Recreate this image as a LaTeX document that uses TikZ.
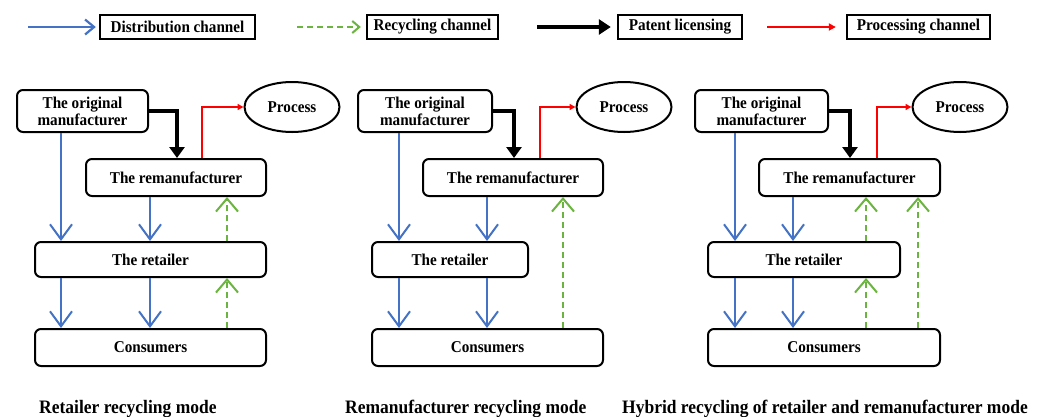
\documentclass[tikz,border=0pt]{standalone}
\usepackage{fontspec}
\setmainfont[FakeStretch=0.92]{Liberation Serif}
\usetikzlibrary{arrows.meta,shapes.geometric}
\definecolor{dblue}{RGB}{68,114,196}
\definecolor{rgreen}{RGB}{108,180,64}
\begin{document}
\begin{tikzpicture}[x=1pt,y=-1pt,
 ent/.style={draw, line width=2pt, rounded corners=6pt, fill=white, font=\bfseries\fontsize{16.5}{17}\selectfont, align=center, inner sep=0pt},
 legbox/.style={draw, line width=2.4pt, font=\bfseries\fontsize{16.5}{17}\selectfont, inner sep=0pt, minimum height=24pt},
 proc/.style={draw, ellipse, line width=2pt, fill=white, font=\bfseries\fontsize{16.5}{17}\selectfont, inner sep=0pt, minimum width=95pt, minimum height=50pt},
 dist/.style={draw=dblue, line width=2pt, -{Straight Barb[length=15pt,width=22pt,line width=2pt]}},
 rec/.style={draw=rgreen, line width=2pt, dash pattern=on 6pt off 4pt, -{Straight Barb[length=13pt,width=22pt,line width=2pt]}},
 pat/.style={draw=black, line width=3.6pt, -{Triangle[length=11pt,width=15pt]}},
 procarr/.style={draw=red, line width=1.6pt, -{Triangle[length=6pt,width=6pt]}},
 modecap/.style={anchor=base west, inner sep=0pt, font=\bfseries\fontsize{19}{20}\selectfont},
]
\useasboundingbox (0,0) rectangle (1040,416);
\fill[white] (0,0) rectangle (1040,416);

% legend
\node[legbox, minimum width=155pt] (lg1) at (177.5,27) {Distribution channel};
\node[legbox, minimum width=131pt] (lg2) at (432.5,27) {Recycling channel};
\node[legbox, minimum width=124pt] (lg3) at (680,27) {Patent licensing};
\node[legbox, minimum width=143pt] (lg4) at (918.5,27) {Processing channel};
\coordinate (la1) at (28,27);
\coordinate (la2) at (297,27);
\coordinate (la3) at (537,27);
\coordinate (la4) at (767,27);
\draw[draw=dblue, line width=2.2pt, -{Straight Barb[length=9pt,width=15pt,line width=2.2pt]}] (la1) -- ([xshift=-3pt]lg1.west);
\draw[draw=rgreen, line width=2pt, dash pattern=on 6pt off 4pt, -{Straight Barb[length=7pt,width=12pt,line width=2pt]}] (la2) -- ([xshift=-5pt]lg2.west);
\draw[draw=black, line width=4.4pt, -{Triangle[length=12pt,width=15pt]}] (la3) -- ([xshift=-6pt]lg3.west);
\draw[draw=red, line width=2.2pt, -{Triangle[length=7pt,width=7pt]}] (la4) -- ([xshift=-10pt]lg4.west);

% ---------- panel 1: retailer recycling ----------
\node[ent, minimum width=131pt, minimum height=42pt] (om1) at (82.5,111) {The original\\manufacturer};
\node[proc] (pr1) at (292,107) {Process};
\node[ent, minimum width=180pt, minimum height=37pt] (rm1) at (176,177.5) {The remanufacturer};
\node[ent, minimum width=231pt, minimum height=35pt] (rt1) at (150.5,259.5) {The retailer};
\node[ent, minimum width=231pt, minimum height=37pt] (cs1) at (150.5,347.5) {Consumers};
\draw[dist] (om1.south -| 61,0) -- (rt1.north -| 61,0);
\draw[dist] (rm1.south -| 150,0) -- (rt1.north -| 150,0);
\draw[dist] (rt1.south -| 61,0) -- (cs1.north -| 61,0);
\draw[dist] (rt1.south -| 150,0) -- (cs1.north -| 150,0);
\draw[rec] (rt1.north -| 227,0) -- (rm1.south -| 227,0);
\draw[rec] (cs1.north -| 227,0) -- (rt1.south -| 227,0);
\draw[pat] (om1.east) -| (rm1.north -| 177,0);
\draw[procarr] (rm1.north -| 202,0) |- (pr1.west);
\node[modecap] (c1) at (39,413) {Retailer recycling mode};

% ---------- panel 2: remanufacturer recycling ----------
\node[ent, minimum width=134pt, minimum height=42pt] (om2) at (425,111) {The original\\manufacturer};
\node[proc] (pr2) at (624,107) {Process};
\node[ent, minimum width=180pt, minimum height=37pt] (rm2) at (513,177.5) {The remanufacturer};
\node[ent, minimum width=156pt, minimum height=35pt] (rt2) at (450,259.5) {The retailer};
\node[ent, minimum width=231pt, minimum height=37pt] (cs2) at (487.5,347.5) {Consumers};
\draw[dist] (om2.south -| 399,0) -- (rt2.north -| 399,0);
\draw[dist] (rm2.south -| 487,0) -- (rt2.north -| 487,0);
\draw[dist] (rt2.south -| 399,0) -- (cs2.north -| 399,0);
\draw[dist] (rt2.south -| 487,0) -- (cs2.north -| 487,0);
\draw[rec] (cs2.north -| 563,0) -- (rm2.south -| 563,0);
\draw[pat] (om2.east) -| (rm2.north -| 514,0);
\draw[procarr] (rm2.north -| 540,0) |- (pr2.west);
\node[modecap] (c2) at (345,413) {Remanufacturer recycling mode};

% ---------- panel 3: hybrid recycling ----------
\node[ent, minimum width=133pt, minimum height=42pt] (om3) at (761.5,111) {The original\\manufacturer};
\node[proc] (pr3) at (960,107) {Process};
\node[ent, minimum width=181pt, minimum height=37pt] (rm3) at (849.5,177.5) {The remanufacturer};
\node[ent, minimum width=192pt, minimum height=35pt] (rt3) at (804,259.5) {The retailer};
\node[ent, minimum width=232pt, minimum height=37pt] (cs3) at (824,347.5) {Consumers};
\draw[dist] (om3.south -| 735,0) -- (rt3.north -| 735,0);
\draw[dist] (rm3.south -| 793,0) -- (rt3.north -| 793,0);
\draw[dist] (rt3.south -| 735,0) -- (cs3.north -| 735,0);
\draw[dist] (rt3.south -| 793,0) -- (cs3.north -| 793,0);
\draw[rec] (rt3.north -| 866,0) -- (rm3.south -| 866,0);
\draw[rec] (cs3.north -| 866,0) -- (rt3.south -| 866,0);
\draw[rec] (cs3.north -| 918,0) -- (rm3.south -| 918,0);
\draw[pat] (om3.east) -| (rm3.north -| 850,0);
\draw[procarr] (rm3.north -| 877,0) |- (pr3.west);
\node[modecap] (c3) at (622,413) {Hybrid recycling of retailer and remanufacturer mode};
\end{tikzpicture}
\end{document}
